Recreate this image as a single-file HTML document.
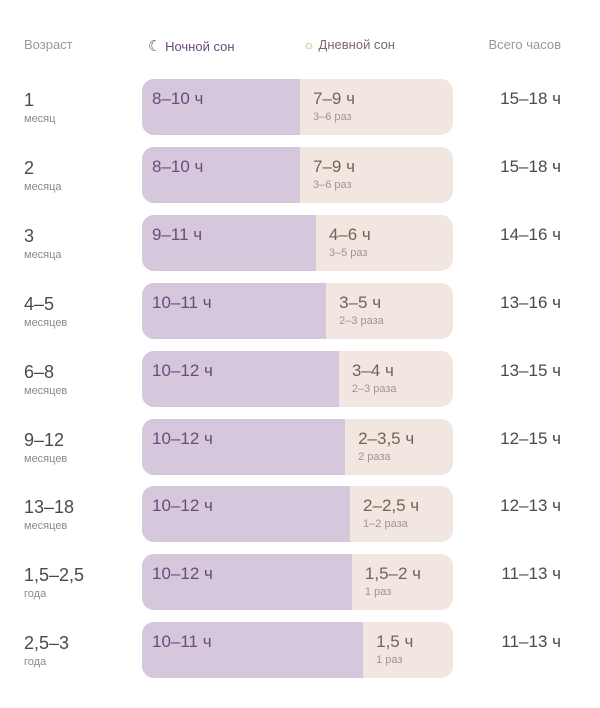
<!DOCTYPE html>
<html><head><meta charset="utf-8"><style>
body{margin:0;width:600px;height:708px;background:#fff;font-family:"Liberation Sans","DejaVu Sans",sans-serif;position:relative;overflow:hidden}
.h{position:absolute;top:37px;font-size:13px;color:#9c979c}
.row{position:absolute;left:0;width:600px;height:56px}
.age{position:absolute;left:24px;top:11px;font-size:18px;color:#4a4a4a;line-height:20px}
.age small{display:block;font-size:11px;color:#8a8a8a;line-height:14px;margin-top:2px}
.bar{position:absolute;left:142px;width:311px;top:0;height:56px;border-radius:12px;overflow:hidden;background:#f2e7e0}
.night{position:absolute;left:0;top:0;bottom:0;background:#d5c8dd}
.nt{position:absolute;left:10px;top:10px;font-size:17px;color:#6b4a7c}
.dt{position:absolute;top:10px;font-size:17px;color:#7a5f55;line-height:19px}
.dt small{display:block;font-size:11px;color:#a8908a;line-height:14px;margin-top:2px}
.tot{position:absolute;right:39px;top:10px;font-size:17px;color:#4a4a4a}
</style></head><body>
<div class="h" style="left:24px">Возраст</div>
<div class="h" style="left:148px;color:#6b4a7c"><span style="font-size:15px">☾</span> Ночной сон</div>
<div class="h" style="left:303px;color:#7a6a66"><span style="color:#c9a36a">☼</span> Дневной сон</div>
<div class="h" style="right:39px">Всего часов</div>
<div id="rows"></div>
<script>
const ages=["1","2","3","4–5","6–8","9–12","13–18","1,5–2,5","2,5–3"];
const ageUnits=["месяц","месяца","месяца","месяцев","месяцев","месяцев","месяцев","года","года"];
const nightHours=["8–10 ч","8–10 ч","9–11 ч","10–11 ч","10–12 ч","10–12 ч","10–12 ч","10–12 ч","10–11 ч"];
const nightShare=[0.508,0.508,0.559,0.592,0.633,0.653,0.669,0.675,0.711];
const dayHours=["7–9 ч","7–9 ч","4–6 ч","3–5 ч","3–4 ч","2–3,5 ч","2–2,5 ч","1,5–2 ч","1,5 ч"];
const dayNaps=["3–6 раз","3–6 раз","3–5 раз","2–3 раза","2–3 раза","2 раза","1–2 раза","1 раз","1 раз"];
const totals=["15–18 ч","15–18 ч","14–16 ч","13–16 ч","13–15 ч","12–15 ч","12–13 ч","11–13 ч","11–13 ч"];
const BAR_W=311,TOP=79,PITCH=67.9;
const c=document.getElementById('rows');
ages.forEach((a,i)=>{
 const r=document.createElement('div');r.className='row';r.style.top=(TOP+PITCH*i)+'px';
 
 
 const w=nightShare[i]*BAR_W;
 r.innerHTML=`<div class="age">${a}<small>${ageUnits[i]}</small></div>
 <div class="bar"><div class="night" style="width:${w}px"></div>
 <div class="nt">${nightHours[i]}</div>
 <div class="dt" style="left:${w+13}px">${dayHours[i]}<small>${dayNaps[i]}</small></div></div>
 <div class="tot">${totals[i]}</div>`;
 c.appendChild(r);
});
</script>
</body></html>
